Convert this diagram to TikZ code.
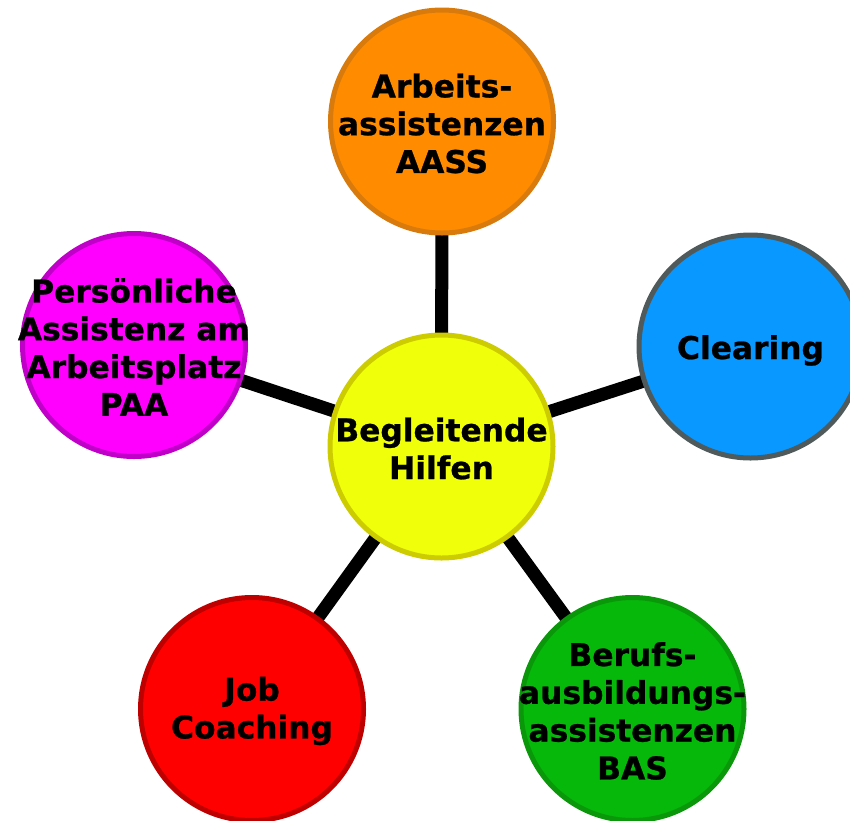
\documentclass[tikz,border=0pt]{standalone}
\usepackage{fontspec}
\setmainfont{DejaVu Sans}[BoldFeatures={FakeBold=0.8}]
\usetikzlibrary{backgrounds}
\definecolor{orfill}{HTML}{FF8C00}
\definecolor{ordraw}{HTML}{D97B0C}
\definecolor{yefill}{HTML}{F0FF0A}
\definecolor{yedraw}{HTML}{CCCC00}
\definecolor{blfill}{HTML}{0898FF}
\definecolor{bldraw}{HTML}{505A5A}
\definecolor{mafill}{HTML}{FF00FF}
\definecolor{madraw}{HTML}{C000C8}
\definecolor{refill}{HTML}{FF0000}
\definecolor{redraw}{HTML}{BE0000}
\definecolor{grfill}{HTML}{05B80A}
\definecolor{grdraw}{HTML}{0A980A}
\begin{document}
\begin{tikzpicture}[x=1pt,y=-1pt,
  bubble/.style={circle, minimum size=223pt, inner sep=0pt, line width=5pt},
  btext/.style={align=center, inner sep=0pt, text=black, yshift=-2pt,
    font=\fontsize{31.3}{37.8}\selectfont\bfseries},
  spoke/.style={line width=13pt, draw=black}]
\useasboundingbox (0,0) rectangle (850,820);
\node[bubble, fill=yefill, draw=yedraw] (hub) at (441.5,446.5) {};
\node[bubble, fill=orfill, draw=ordraw] (aass) at (442,121.5) {};
\node[bubble, fill=blfill, draw=bldraw] (clear) at (750.5,346.5) {};
\node[bubble, fill=mafill, draw=madraw] (paa) at (134,345) {};
\node[bubble, fill=refill, draw=redraw] (job) at (252,709) {};
\node[bubble, fill=grfill, draw=grdraw] (bas) at (632.5,709) {};
\node[btext] (hubt) at (hub) {Begleitende\\Hilfen};
\node[btext] (aasst) at (aass) {Arbeits-\\assistenzen\\AASS};
\node[btext, yshift=-2pt] (cleart) at (clear) {Clearing};
\node[btext] (paat) at (paa) {Persönliche\\Assistenz am\\Arbeitsplatz\\PAA};
\node[btext] (jobt) at (job) {Job\\Coaching};
\node[btext] (bast) at (bas) {Berufs-\\ausbildungs-\\assistenzen\\BAS};
\begin{scope}[on background layer]
  \draw[spoke] (hub.center) -- (aass.center);
  \draw[spoke] (hub.center) -- (clear.center);
  \draw[spoke] (hub.center) -- (paa.center);
  \draw[spoke] (hub.center) -- (job.center);
  \draw[spoke] (hub.center) -- (bas.center);
\end{scope}
\end{tikzpicture}
\end{document}
